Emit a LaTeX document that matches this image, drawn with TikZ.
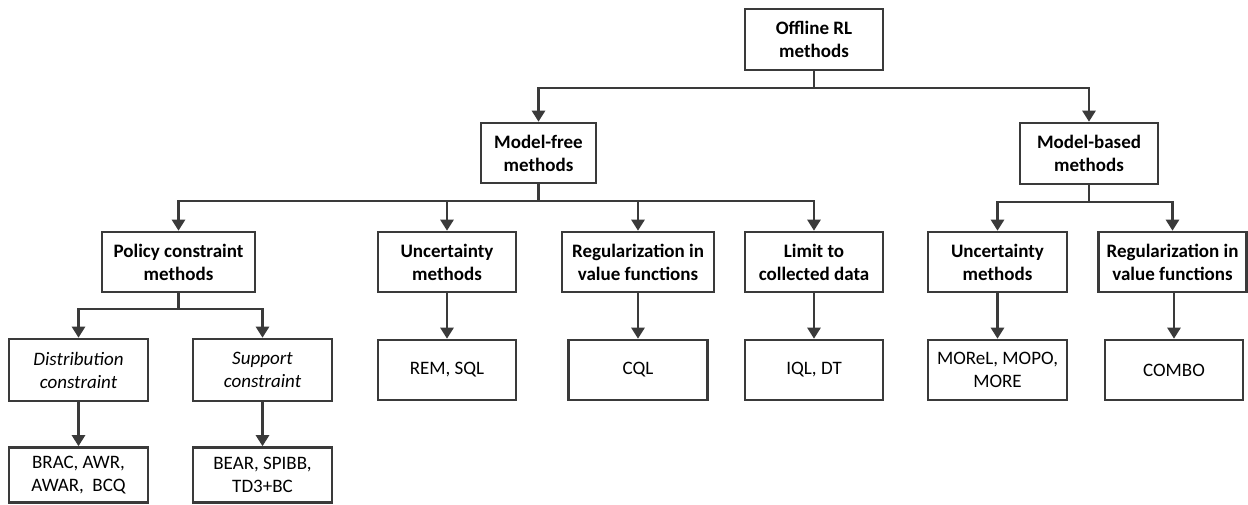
\documentclass[tikz,border=0pt]{standalone}
\usepackage{fontspec}
\setmainfont{Carlito}
\usetikzlibrary{arrows.meta}
\definecolor{ink}{HTML}{3A3A3A}
\tikzset{
  box/.style={draw=ink, line width=2.6pt, rectangle, inner sep=0pt,
    minimum height=60pt, align=center, text=black,
    font=\fontsize{19}{23}\selectfont},
  head/.style={box, font=\fontsize{19}{23}\selectfont\bfseries},
  kind/.style={box, font=\fontsize{19}{23}\selectfont\itshape},
  line/.style={draw=ink, line width=2.6pt},
  arr/.style={line, -{Triangle[width=13pt,length=11pt]}},
}
\begin{document}
\begin{tikzpicture}[x=1pt, y=-1pt]
\useasboundingbox (0,0) rectangle (1248,504);

% root
\node[head, minimum width=138pt, minimum height=61pt] (off) at (814,39.5) {Offline RL\\methods};

% main families
\node[head, minimum width=115pt] (mf) at (538.5,153) {Model-free\\methods};
\node[head, minimum width=138pt, minimum height=61pt] (mb) at (1089,153.5) {Model-based\\methods};

% model-free categories
\node[head, minimum width=153pt] (pc)  at (178.5,262) {Policy constraint\\methods};
\node[head, minimum width=138pt] (unc) at (447,262)   {Uncertainty\\methods};
\node[head, minimum width=152pt] (reg) at (638,262)   {Regularization in\\value functions};
\node[head, minimum width=138pt] (lim) at (814,262)   {Limit to\\collected data};

% model-based categories
\node[head, minimum width=139pt] (umb) at (997.5,262) {Uncertainty\\methods};
\node[head, minimum width=148pt] (rmb) at (1172.5,262) {Regularization in\\value functions};

% policy constraint kinds
\node[kind, minimum width=139pt, minimum height=62pt] (dist) at (78.5,370)  {Distribution\\constraint};
\node[kind, minimum width=139pt, minimum height=62pt] (sup)  at (262.5,370) {Support\\constraint};

% algorithms
\node[box, minimum width=138pt] (rem) at (447,370)    {REM, SQL};
\node[box, minimum width=139pt] (cql) at (638,370)    {CQL};
\node[box, minimum width=138pt] (iql) at (814,370)    {IQL, DT};
\node[box, minimum width=139pt] (mor) at (997.5,370)  {MOReL, MOPO,\\MORE};
\node[box, minimum width=138pt] (com) at (1174,370)   {COMBO};
\node[box, minimum width=139pt, minimum height=55pt] (brac) at (78.5,475)  {BRAC, AWR,\\AWAR,\ \ BCQ};
\node[box, minimum width=139pt, minimum height=55pt] (bear) at (262.5,475) {BEAR, SPIBB,\\TD3+BC};

% junction points of the branching bars
\coordinate (j0) at (814,88);
\coordinate (j1) at (538.5,201);
\coordinate (j2) at (1089,202);
\coordinate (j3) at (178.5,309);

% root to families
\draw[line] (off) -- (j0);
\draw[arr] (j0) -| (mf.north);
\draw[arr] (j0) -| (mb.north);

% model-free branches
\draw[line] (mf) -- (j1);
\draw[arr] (j1) -| (pc.north);
\draw[arr] (j1) -| (unc.north);
\draw[arr] (j1) -| (reg.north);
\draw[arr] (j1) -| (lim.north);

% model-based branches
\draw[line] (mb) -- (j2);
\draw[arr] (j2) -| (umb.north);
\draw[arr] (j2) -| (rmb.north);

% policy constraint branches
\draw[line] (pc) -- (j3);
\draw[arr] (j3) -| (dist.north);
\draw[arr] (j3) -| (sup.north);

% categories to algorithms
\draw[arr] (dist) -- (brac);
\draw[arr] (sup) -- (bear);
\draw[arr] (unc) -- (rem);
\draw[arr] (reg) -- (cql);
\draw[arr] (lim) -- (iql);
\draw[arr] (umb) -- (mor);
\draw[arr] (rmb.south -| com) -- (com);
\end{tikzpicture}
\end{document}
